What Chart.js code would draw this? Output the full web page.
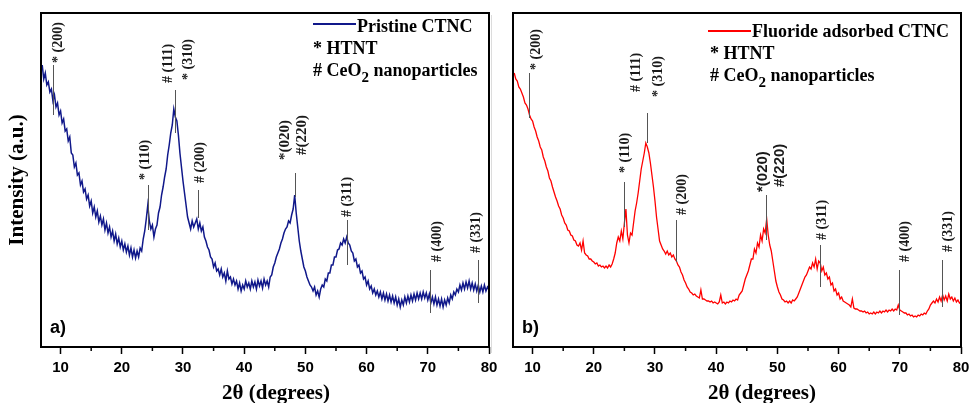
<!DOCTYPE html>
<html>
<head>
<meta charset="utf-8">
<script src="https://cdn.jsdelivr.net/npm/chart.js@4.4.1/dist/chart.umd.min.js"></script>
<style>
  body { margin: 0; background: #fff; }
  #wrap { position: relative; width: 970px; height: 403px; overflow: hidden; }
  canvas { position: absolute; top: 0; }
  #left { left: 0; }
  #right { left: 492px; }
  #sep { position: absolute; left: 491px; top: 15px; width: 1px; height: 338px; background: #dcdcdc; }
</style>
</head>
<body>
<div id="wrap">
  <canvas id="left" width="502" height="403"></canvas>
  <canvas id="right" width="478" height="403"></canvas>
  <div id="sep"></div>
</div>
<script>
// 2θ scan grid (degrees)
const twoTheta = [
  7,7.25,7.5,7.75, 8,8.25,8.5,8.75, 9,9.25,9.5,9.75,
  10,10.25,10.5,10.75, 11,11.25,11.5,11.75, 12,12.25,12.5,12.75, 13,13.25,13.5,13.75,
  14,14.25,14.5,14.75, 15,15.25,15.5,15.75, 16,16.25,16.5,16.75, 17,17.25,17.5,17.75,
  18,18.25,18.5,18.75, 19,19.25,19.5,19.75, 20,20.25,20.5,20.75, 21,21.25,21.5,21.75,
  22,22.25,22.5,22.75, 23,23.25,23.5,23.75, 24,24.25,24.5,24.75, 25,25.25,25.5,25.75,
  26,26.25,26.5,26.75, 27,27.25,27.5,27.75, 28,28.25,28.5,28.75, 29,29.25,29.5,29.75,
  30,30.25,30.5,30.75, 31,31.25,31.5,31.75, 32,32.25,32.5,32.75, 33,33.25,33.5,33.75,
  34,34.25,34.5,34.75, 35,35.25,35.5,35.75, 36,36.25,36.5,36.75, 37,37.25,37.5,37.75,
  38,38.25,38.5,38.75, 39,39.25,39.5,39.75, 40,40.25,40.5,40.75, 41,41.25,41.5,41.75,
  42,42.25,42.5,42.75, 43,43.25,43.5,43.75, 44,44.25,44.5,44.75, 45,45.25,45.5,45.75,
  46,46.25,46.5,46.75, 47,47.25,47.5,47.75, 48,48.25,48.5,48.75, 49,49.25,49.5,49.75,
  50,50.25,50.5,50.75, 51,51.25,51.5,51.75, 52,52.25,52.5,52.75, 53,53.25,53.5,53.75,
  54,54.25,54.5,54.75, 55,55.25,55.5,55.75, 56,56.25,56.5,56.75, 57,57.25,57.5,57.75,
  58,58.25,58.5,58.75, 59,59.25,59.5,59.75, 60,60.25,60.5,60.75, 61,61.25,61.5,61.75,
  62,62.25,62.5,62.75, 63,63.25,63.5,63.75, 64,64.25,64.5,64.75, 65,65.25,65.5,65.75,
  66,66.25,66.5,66.75, 67,67.25,67.5,67.75, 68,68.25,68.5,68.75, 69,69.25,69.5,69.75,
  70,70.25,70.5,70.75, 71,71.25,71.5,71.75, 72,72.25,72.5,72.75, 73,73.25,73.5,73.75,
  74,74.25,74.5,74.75, 75,75.25,75.5,75.75, 76,76.25,76.5,76.75, 77,77.25,77.5,77.75,
  78,78.25,78.5,78.75, 79,79.25,79.5,79.75, 80
];

// intensity (a.u.), read off panel a)
const pristineCTNC = [
  282,268,274,262, 265,255,258,246, 252,240,244,232,
  236,224,228,216, 218,206,210,194, 192,180,184,172, 174,162,166,155,
  158,148,152,141, 146,134,140,130, 136,125,131,122, 128,117,124,114,
  120,110,116,106, 113,103,109,100, 106,97,103,95, 101,92,99,90,
  97,89,96,90, 99,96,108,116, 128,142,126,118, 122,110,118,122,
  134,140,152,160, 170,178,192,202, 214,222,238,230, 226,212,194,180,
  166,154,142,130, 124,118,126,120, 124,128,118,124, 116,120,110,106,
  100,97,90,88, 80,84,76,78, 72,78,70,74, 66,76,68,70,
  63,68,62,66, 58,64,56,62, 58,66,60,64, 58,66,60,65,
  58,67,61,66, 59,68,62,66, 60,70,72,80, 84,90,94,98,
  104,108,114,118, 120,126,124,132, 138,152,134,120, 106,96,88,80,
  76,70,66,62, 60,56,60,52, 56,50,58,62, 60,68,66,74,
  74,82,82,90, 90,97,98,104, 102,108,104,110, 104,102,96,94,
  86,88,80,82, 74,76,68,70, 62,66,58,61, 54,58,52,56,
  50,55,48,54, 47,53,46,52, 45,51,44,50, 42,48,40,47,
  42,50,44,51, 45,52,46,53, 47,54,48,54, 48,55,49,54,
  47,53,44,50, 43,50,42,48, 41,48,40,47, 42,49,44,52,
  48,55,52,58, 55,62,57,64, 58,65,59,66, 58,64,57,63,
  56,62,55,61, 55,62,56,60, 57
];

// intensity (a.u.), read off panel b)
const fluorideCTNC = [
  274,268,266,260, 258,254,250,244, 242,238,232,228,
  226,220,216,210, 206,200,197,190, 186,180,176,169, 166,160,155,150,
  146,141,138,132, 129,124,122,117, 116,112,111,107, 106,102,101,104,
  97,106,94,92, 91,88,88,86, 85,83,84,81, 82,80,81,79,
  81,79,82,80, 83,88,94,104, 110,106,116,108, 124,138,112,104,
  114,112,124,136, 144,154,166,178, 186,194,204,200, 194,184,172,160,
  146,130,118,106, 102,98,96,93, 96,92,94,90, 92,88,86,82,
  80,75,72,67, 64,60,58,55, 54,52,53,51, 50,49,57,48,
  48,47,46,46, 45,46,44,45, 44,43,45,52, 44,45,43,45,
  44,46,45,47, 46,48,47,52, 54,56,62,68, 72,76,82,88,
  88,98,94,104, 100,112,106,118, 114,128,112,102, 96,86,76,66,
  60,55,52,48, 47,45,46,44, 46,44,47,46, 48,50,54,58,
  62,66,70,72, 76,80,78,84, 80,88,78,86, 84,76,80,72,
  74,68,70,62, 64,56,58,52, 54,48,50,46, 45,44,43,42,
  40,48,39,38, 38,37,36,36, 35,36,34,35, 33,34,33,35,
  33,35,34,36, 34,36,35,37, 35,37,36,38, 36,38,37,42,
  37,36,35,34, 34,32,33,31, 32,30,31,30, 32,31,33,32,
  34,33,36,38, 42,44,46,44, 48,45,50,46, 52,47,51,46,
  53,48,50,46, 49,45,47,44, 45
];

const majorTicks = [10, 20, 30, 40, 50, 60, 70, 80];
const minorTicks = [15, 25, 35, 45, 55, 65, 75];

const SERIF = "'Liberation Serif', 'Times New Roman', serif";
const SANS = "'Liberation Sans', Arial, sans-serif";
const markFont = 'bold 14px ' + SERIF;

// peak markers: at = 2θ, from/to = line ends (a.u.), base = where label text starts
const pristineMarks = [
  { at: 8.76, from: 282, to: 232, labels: [{ text: '* (200)', dx: 5, base: 284 }] },
  { at: 24.28, from: 162, to: 117, labels: [{ text: '* (110)', dx: -3, base: 167 }] },
  { at: 28.7, from: 257, to: 214, labels: [{ text: '# (111)', dx: -7, base: 264 }, { text: '* (310)', dx: 13, base: 267 }] },
  { at: 32.45, from: 157, to: 129, labels: [{ text: '# (200)', dx: 2, base: 164 }] },
  { at: 48.3, from: 174, to: 150, labels: [{ text: '*(020)', dx: -10, base: 187, font: 'bold 15px ' + SERIF }, { text: '#(220)', dx: 7, base: 192, font: 'bold 15px ' + SERIF }] },
  { at: 56.8, from: 127, to: 82, labels: [{ text: '# (311)', dx: 0, base: 130 }] },
  { at: 70.36, from: 77, to: 34, labels: [{ text: '# (400)', dx: 7, base: 85 }] },
  { at: 78.2, from: 87, to: 44, labels: [{ text: '# (331)', dx: -2, base: 94 }] }
];

const fluorideMarks = [
  { at: 9.35, from: 274, to: 229, labels: [{ text: '* (200)', dx: 7, base: 277 }] },
  { at: 24.87, from: 165, to: 120, labels: [{ text: '* (110)', dx: 1, base: 174 }] },
  { at: 28.63, from: 234, to: 204, labels: [{ text: '# (111)', dx: -11, base: 255 }, { text: '* (310)', dx: 11, base: 250 }] },
  { at: 33.37, from: 127, to: 85, labels: [{ text: '# (200)', dx: 6, base: 132 }] },
  { at: 48.07, from: 152, to: 107, labels: [{ text: '*(020)', dx: -4, base: 155, font: 'bold 15px ' + SANS }, { text: '#(220)', dx: 13, base: 160, font: 'bold 15px ' + SANS }] },
  { at: 56.9, from: 102, to: 60, labels: [{ text: '# (311)', dx: 2, base: 107 }] },
  { at: 69.8, from: 77, to: 32, labels: [{ text: '# (400)', dx: 6, base: 85 }] },
  { at: 76.83, from: 87, to: 40, labels: [{ text: '# (331)', dx: 6, base: 95 }] }
];

const decor = {
  id: 'decor',
  afterDatasetsDraw(chart, args, o) {
    const { ctx, chartArea: a, scales: { x, y } } = chart;
    const ds = chart.data.datasets[0];
    ctx.save();
    // frame + minor ticks
    ctx.strokeStyle = '#000';
    ctx.lineWidth = 2;
    ctx.strokeRect(a.left, a.top, a.right - a.left, a.bottom - a.top);
    ctx.lineWidth = 1.5;
    minorTicks.forEach(v => {
      const px = x.getPixelForValue(v);
      ctx.beginPath();
      ctx.moveTo(px, a.bottom);
      ctx.lineTo(px, a.bottom + 4);
      ctx.stroke();
    });
    // peak markers
    o.marks.forEach(m => {
      const px = Math.round(x.getPixelForValue(m.at)) + 0.5;
      ctx.strokeStyle = '#555';
      ctx.lineWidth = 1;
      ctx.beginPath();
      ctx.moveTo(px, y.getPixelForValue(m.from));
      ctx.lineTo(px, y.getPixelForValue(m.to));
      ctx.stroke();
      m.labels.forEach(l => {
        ctx.save();
        ctx.translate(px + l.dx, y.getPixelForValue(l.base));
        ctx.rotate(-Math.PI / 2);
        ctx.font = l.font || markFont;
        ctx.fillStyle = '#1a1a1a';
        ctx.textAlign = 'left';
        ctx.textBaseline = 'middle';
        ctx.fillText(l.text, 0, 0);
        ctx.restore();
      });
    });
    // legend
    const g = o.legend;
    ctx.strokeStyle = ds.borderColor;
    ctx.lineWidth = 2;
    ctx.beginPath();
    ctx.moveTo(g.lineFrom, g.lineY);
    ctx.lineTo(g.lineTo, g.lineY);
    ctx.stroke();
    ctx.fillStyle = '#000';
    ctx.textAlign = 'left';
    ctx.textBaseline = 'alphabetic';
    ctx.font = 'bold 18px ' + SERIF;
    ctx.fillText(ds.label, g.lineTo + 1, g.nameY);
    ctx.fillText('* HTNT', g.noteX, g.nameY + 22);
    let tx = g.noteX;
    const cy = g.nameY + 44;
    ctx.fillText('# CeO', tx, cy);
    tx += ctx.measureText('# CeO').width;
    ctx.font = 'bold 15px ' + SERIF;
    ctx.fillText('2', tx, cy + 6);
    tx += ctx.measureText('2').width;
    ctx.font = 'bold 18px ' + SERIF;
    ctx.fillText(' nanoparticles', tx, cy);
    // panel tag
    ctx.font = 'bold 18px ' + SANS;
    ctx.fillText(o.tag, a.left + 9, 333);
    // x title
    ctx.font = 'bold 21px ' + SERIF;
    ctx.fillText('2θ (degrees)', o.titleX, 399);
    ctx.restore();
  }
};

function makeChart(id, series, label, color, width, marks, legend, tag, titleX, leftPad, rightPad, showY) {
  return new Chart(document.getElementById(id), {
    type: 'line',
    data: {
      datasets: [{
        label: label,
        data: twoTheta.map((t, i) => ({ x: t, y: series[i] })),
        borderColor: color,
        borderWidth: width,
        pointRadius: 0,
        tension: 0
      }]
    },
    options: {
      responsive: false,
      animation: false,
      devicePixelRatio: 1,
      layout: { padding: { top: 13, right: rightPad, left: leftPad, bottom: 0 } },
      scales: {
        x: {
          type: 'linear',
          min: 6.8,
          max: 80,
          afterBuildTicks: s => { s.ticks = majorTicks.map(v => ({ value: v })); },
          afterFit: s => { s.height = 56; s.paddingLeft = 0; s.paddingRight = 0; },
          ticks: {
            autoSkip: false,
            maxRotation: 0,
            padding: 5,
            color: '#000',
            font: { family: SANS, size: 15, weight: 'bold' }
          },
          grid: { drawOnChartArea: false, tickLength: 7, tickWidth: 1.5, tickColor: '#000' },
          border: { display: false }
        },
        y: {
          display: showY,
          min: 0,
          max: 334,
          afterFit: s => { s.width = showY ? 41 : 0; },
          ticks: { display: false },
          grid: { display: false },
          border: { display: false },
          title: {
            display: true,
            text: 'Intensity (a.u.)',
            color: '#000',
            padding: { top: 5, bottom: 0 },
            font: { family: SERIF, size: 21, weight: 'bold' }
          }
        }
      },
      plugins: {
        legend: { display: false },
        tooltip: { enabled: false },
        decor: { marks: marks, legend: legend, tag: tag, titleX: titleX }
      }
    },
    plugins: [decor]
  });
}

makeChart('left', pristineCTNC, 'Pristine CTNC', '#10188a', 1.5, pristineMarks,
  { lineFrom: 313, lineTo: 356, lineY: 24, nameY: 32, noteX: 313 }, 'a)', 222, 0, 13, true);

makeChart('right', fluorideCTNC, 'Fluoride adsorbed CTNC', '#ff0000', 1.3, fluorideMarks,
  { lineFrom: 216, lineTo: 259, lineY: 31, nameY: 37, noteX: 218 }, 'b)', 216, 21, 9, false);
</script>
</body>
</html>
